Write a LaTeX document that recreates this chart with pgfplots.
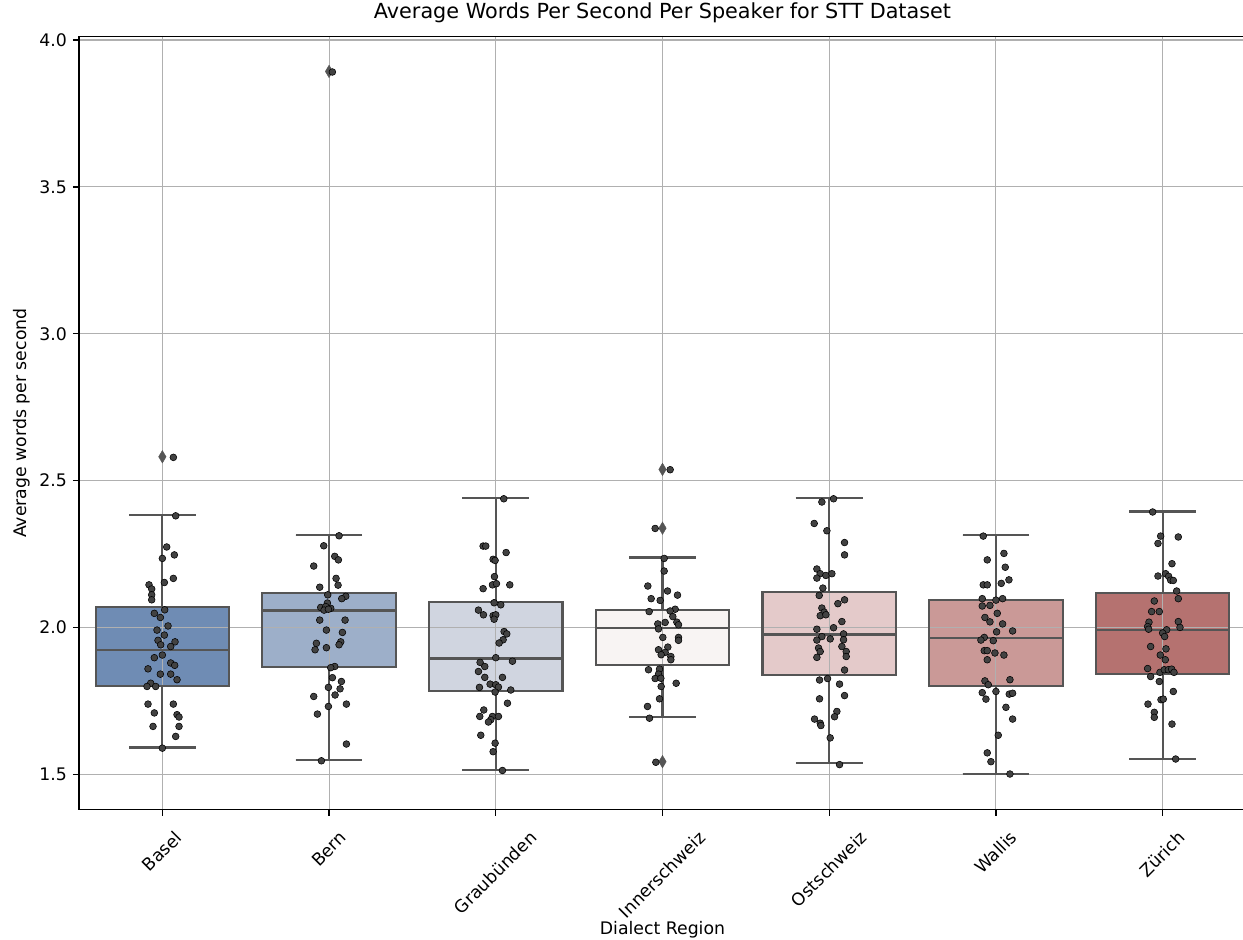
\documentclass[border=0pt]{standalone}
\usepackage{pgfplots}
\usepackage{pgfplotstable}
\usepgfplotslibrary{statistics}
\pgfplotsset{compat=1.18}
\usepackage{fontspec}
\setmainfont{DejaVu Sans}

\definecolor{cBasel}{HTML}{6F8CB4}
\definecolor{cBern}{HTML}{9DAFC9}
\definecolor{cGrau}{HTML}{D0D5E0}
\definecolor{cInner}{HTML}{F8F4F3}
\definecolor{cOst}{HTML}{E4CACA}
\definecolor{cWallis}{HTML}{CA9997}
\definecolor{cZuerich}{HTML}{B57270}
\definecolor{edgec}{HTML}{555555}
\definecolor{dotc}{HTML}{424242}
\definecolor{gridc}{HTML}{B0B0B0}

\newlength\rlw
\newcommand\rl[1]{\settowidth\rlw{#1}\makebox[0pt][l]{\hspace*{\dimexpr-0.75\rlw-9.79pt\relax}\raisebox{\dimexpr-0.25\rlw-14.09pt\relax}[0pt][0pt]{#1}}}

\pgfplotstableread{
x y
0.066 2.579
0.080 2.380
0.026 2.274
0.000 2.235
0.072 2.247
0.012 2.153
0.066 2.167
-0.080 2.145
-0.064 2.131
-0.064 2.111
-0.064 2.094
0.014 2.060
-0.048 2.048
-0.012 2.034
0.034 2.005
-0.032 1.991
0.012 1.974
-0.026 1.956
0.076 1.951
-0.010 1.941
0.050 1.935
-0.048 1.897
0.000 1.906
0.050 1.879
0.074 1.871
-0.086 1.859
-0.012 1.841
0.050 1.841
0.088 1.822
-0.070 1.810
-0.092 1.799
-0.040 1.799
-0.086 1.739
0.066 1.739
-0.048 1.709
0.088 1.703
0.100 1.695
-0.056 1.663
0.100 1.663
0.080 1.629
0.000 1.589
}\dBasel

\pgfplotstableread{
x y
1.020 3.891
1.060 2.312
0.968 2.278
1.034 2.242
1.056 2.230
0.908 2.209
1.042 2.167
1.054 2.144
0.944 2.137
0.992 2.111
1.100 2.106
1.076 2.098
0.990 2.083
0.950 2.068
0.980 2.071
1.010 2.065
0.970 2.059
0.996 2.062
0.944 2.025
1.096 2.025
0.984 1.991
1.080 1.983
1.070 1.951
1.060 1.941
0.924 1.946
0.916 1.924
0.984 1.931
1.034 1.867
1.010 1.863
1.020 1.829
1.074 1.816
0.996 1.796
1.066 1.791
1.036 1.770
0.908 1.765
0.996 1.731
1.104 1.739
0.930 1.705
1.104 1.603
0.954 1.546
}\dBern

\pgfplotstableread{
x y
2.048 2.438
1.924 2.277
1.940 2.277
2.062 2.255
1.984 2.232
1.996 2.228
1.992 2.173
1.980 2.145
2.004 2.149
2.084 2.145
1.924 2.132
1.990 2.084
2.030 2.077
1.896 2.059
1.926 2.043
1.984 2.040
2.000 2.043
1.990 2.028
2.050 1.986
2.066 1.978
2.044 1.958
2.020 1.947
2.000 1.897
2.100 1.885
1.906 1.881
1.934 1.867
1.896 1.850
1.934 1.830
2.040 1.830
1.966 1.807
2.000 1.805
2.016 1.797
1.902 1.796
2.090 1.787
1.996 1.780
2.070 1.742
1.928 1.719
1.904 1.697
1.980 1.697
2.016 1.697
1.970 1.686
1.956 1.678
1.910 1.633
1.996 1.606
1.984 1.577
2.040 1.513
}\dGrau

\pgfplotstableread{
x y
3.046 2.537
2.956 2.337
3.010 2.235
3.010 2.192
2.912 2.141
3.030 2.124
3.090 2.110
2.932 2.098
2.986 2.092
2.920 2.054
3.076 2.062
3.046 2.056
3.062 2.037
3.086 2.018
3.096 2.009
3.016 2.017
2.972 2.012
2.976 1.995
3.002 1.966
3.096 1.966
3.096 1.956
3.032 1.933
2.976 1.924
3.016 1.915
2.992 1.907
3.050 1.901
3.050 1.890
2.916 1.856
2.982 1.858
2.976 1.841
2.956 1.826
2.990 1.827
3.082 1.810
2.992 1.799
2.982 1.757
2.910 1.731
2.922 1.691
2.960 1.541
}\dInner

\pgfplotstableread{
x y
4.026 2.438
3.956 2.427
3.910 2.354
3.986 2.329
4.092 2.289
4.092 2.247
3.926 2.199
3.946 2.183
3.980 2.177
4.016 2.183
3.926 2.168
3.962 2.134
3.940 2.109
4.092 2.094
4.052 2.081
3.956 2.066
3.970 2.052
3.946 2.040
3.980 2.043
4.076 2.020
3.926 1.994
4.026 1.999
4.086 1.978
3.956 1.969
4.006 1.961
3.926 1.957
4.086 1.958
4.076 1.935
3.936 1.930
3.946 1.918
4.102 1.918
4.102 1.901
3.926 1.898
4.092 1.855
3.942 1.821
3.990 1.826
4.062 1.807
4.092 1.768
3.942 1.757
4.046 1.714
4.032 1.696
3.912 1.688
3.946 1.674
3.950 1.666
4.006 1.624
4.062 1.533
}\dOst

\pgfplotstableread{
x y
4.924 2.311
5.048 2.252
4.948 2.230
5.056 2.205
5.078 2.162
5.032 2.150
4.924 2.145
4.948 2.145
5.040 2.098
4.918 2.098
5.000 2.093
4.964 2.075
4.918 2.073
5.008 2.048
4.934 2.034
4.964 2.019
5.040 2.012
5.004 1.985
5.100 1.988
4.930 1.966
4.910 1.957
4.984 1.955
4.930 1.921
4.948 1.921
4.994 1.913
5.048 1.906
4.948 1.890
4.934 1.818
4.954 1.805
5.084 1.822
5.000 1.782
4.918 1.778
5.080 1.773
5.100 1.776
4.940 1.756
5.060 1.728
5.100 1.688
5.014 1.633
4.948 1.573
4.970 1.543
5.084 1.501
}\dWallis

\pgfplotstableread{
x y
5.940 2.393
5.988 2.311
6.094 2.308
5.972 2.286
6.056 2.217
5.972 2.175
6.018 2.183
6.036 2.174
6.048 2.161
6.064 2.160
6.084 2.124
6.094 2.098
5.950 2.090
5.934 2.054
5.980 2.054
5.918 2.018
6.094 2.020
5.910 2.003
6.104 2.000
5.916 1.994
6.024 1.992
6.000 1.981
6.012 1.969
5.928 1.935
6.020 1.927
5.986 1.906
6.016 1.890
5.910 1.860
5.984 1.847
6.010 1.856
6.034 1.856
6.054 1.858
6.068 1.847
5.928 1.833
5.980 1.816
6.064 1.782
5.990 1.754
6.004 1.756
5.912 1.739
5.950 1.711
5.950 1.694
6.056 1.671
6.078 1.552
}\dZuerich

\pgfplotsset{
  layers/mylayers/.define layer set={axis background, boxfill, axis grid, axis ticks, main, axis lines, axis tick labels, axis descriptions, axis foreground}{},
  fillbox/.style={on layer=boxfill, draw=none, fill=#1, mark=none,
    boxplot/draw direction=y, boxplot/box extend=0.8, boxplot/whisker extend=0.4},
  linebox/.style={fill=none, draw=edgec, line width=1.6pt, mark=diamond*,
    mark size=4.5pt, mark options={draw=edgec, fill=edgec, line width=0.3pt, xscale=0.8},
    boxplot/draw direction=y, boxplot/box extend=0.8, boxplot/whisker extend=0.4},
  dots/.style={only marks, mark=*, mark size=2.45pt, mark options={draw=none, fill=dotc}},
}

\begin{document}
\begin{tikzpicture}
\begin{axis}[
  set layers=mylayers,
  at={(0,0)}, anchor=south west,
  scale only axis,
  width=11.67in, height=7.73in,
  xmin=-0.5, xmax=6.5,
  ymin=1.3795, ymax=4.0112,
  xtick={0,1,2,3,4,5,6},
  xticklabels={\rl{Basel},\rl{Bern},\rl{Graubünden},\rl{Innerschweiz},\rl{Ostschweiz},\rl{Wallis},\rl{Zürich}},
  ytick={1.5,2,2.5,3,3.5,4},
  tick label style={font=\fontsize{12.5}{15}\selectfont, text=black},
  xticklabel style={anchor=center, rotate=45, inner sep=0pt},
  yticklabel style={anchor=east, inner sep=0pt, xshift=-4.2pt,
    /pgf/number format/fixed, /pgf/number format/fixed zerofill,
    /pgf/number format/precision=1, /pgf/number format/assume math mode=true},
  tick align=outside, tick pos=left,
  major tick length=4.4pt,
  every tick/.style={black, line width=1pt},
  axis line style={black, line width=1pt},
  grid=major,
  grid style={gridc, line width=0.8pt},
  title={Average Words Per Second Per Speaker for STT Dataset},
  title style={at={(axis description cs:0.5,1.01294)}, anchor=base, font=\fontsize{15}{18}\selectfont},
  xlabel={Dialect Region},
  xlabel style={at={(axis description cs:0.5,-0.16119)}, anchor=base, font=\fontsize{12.5}{15}\selectfont},
  ylabel={Average words per second},
  ylabel style={at={(axis description cs:-0.04482,0.5)}, anchor=base, font=\fontsize{12.5}{15}\selectfont},
]
% filled boxes (below grid)
\addplot[fillbox=cBasel, boxplot prepared={draw position=0, lower whisker=1.591, lower quartile=1.800, median=1.924, upper quartile=2.070, upper whisker=2.382}] coordinates {};
\addplot[fillbox=cBern, boxplot prepared={draw position=1, lower whisker=1.549, lower quartile=1.865, median=2.058, upper quartile=2.117, upper whisker=2.314}] coordinates {};
\addplot[fillbox=cGrau, boxplot prepared={draw position=2, lower whisker=1.515, lower quartile=1.784, median=1.894, upper quartile=2.087, upper whisker=2.442}] coordinates {};
\addplot[fillbox=cInner, boxplot prepared={draw position=3, lower whisker=1.695, lower quartile=1.873, median=1.998, upper quartile=2.060, upper whisker=2.238}] coordinates {};
\addplot[fillbox=cOst, boxplot prepared={draw position=4, lower whisker=1.538, lower quartile=1.839, median=1.976, upper quartile=2.121, upper whisker=2.442}] coordinates {};
\addplot[fillbox=cWallis, boxplot prepared={draw position=5, lower whisker=1.502, lower quartile=1.801, median=1.964, upper quartile=2.094, upper whisker=2.314}] coordinates {};
\addplot[fillbox=cZuerich, boxplot prepared={draw position=6, lower whisker=1.552, lower quartile=1.842, median=1.990, upper quartile=2.117, upper whisker=2.395}] coordinates {};
% outlines, whiskers, medians, outliers
\addplot[linebox, boxplot prepared={draw position=0, lower whisker=1.591, lower quartile=1.800, median=1.924, upper quartile=2.070, upper whisker=2.382}] table[row sep=\\, y index=0] {data\\ 2.581\\};
\addplot[linebox, boxplot prepared={draw position=1, lower whisker=1.549, lower quartile=1.865, median=2.058, upper quartile=2.117, upper whisker=2.314}] table[row sep=\\, y index=0] {data\\ 3.893\\};
\addplot[linebox, boxplot prepared={draw position=2, lower whisker=1.515, lower quartile=1.784, median=1.894, upper quartile=2.087, upper whisker=2.442}] coordinates {};
\addplot[linebox, boxplot prepared={draw position=3, lower whisker=1.695, lower quartile=1.873, median=1.998, upper quartile=2.060, upper whisker=2.238}] table[row sep=\\, y index=0] {data\\ 2.538\\ 2.338\\ 1.543\\};
\addplot[linebox, boxplot prepared={draw position=4, lower whisker=1.538, lower quartile=1.839, median=1.976, upper quartile=2.121, upper whisker=2.442}] coordinates {};
\addplot[linebox, boxplot prepared={draw position=5, lower whisker=1.502, lower quartile=1.801, median=1.964, upper quartile=2.094, upper whisker=2.314}] coordinates {};
\addplot[linebox, boxplot prepared={draw position=6, lower whisker=1.552, lower quartile=1.842, median=1.990, upper quartile=2.117, upper whisker=2.395}] coordinates {};
% strip points
\addplot[dots] table[x=x, y=y] {\dBasel};
\addplot[dots] table[x=x, y=y] {\dBern};
\addplot[dots] table[x=x, y=y] {\dGrau};
\addplot[dots] table[x=x, y=y] {\dInner};
\addplot[dots] table[x=x, y=y] {\dOst};
\addplot[dots] table[x=x, y=y] {\dWallis};
\addplot[dots] table[x=x, y=y] {\dZuerich};
\end{axis}
\pgfresetboundingbox
\path[use as bounding box] (-0.79in,-1.293in) rectangle (11.64in,8.097in);
\end{tikzpicture}
\end{document}
